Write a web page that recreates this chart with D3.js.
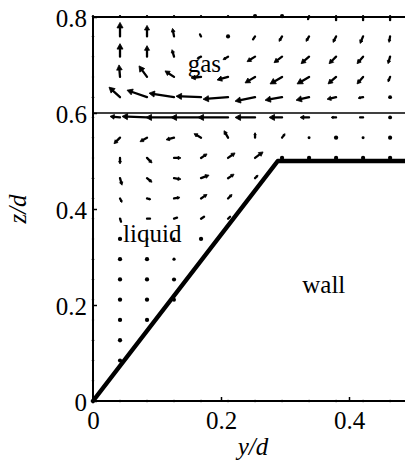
<!DOCTYPE html>
<html><head><meta charset="utf-8">
<script src="https://cdn.jsdelivr.net/npm/d3@7"></script>
<style>
html,body{margin:0;padding:0;background:#fff;}
svg{display:block;}
svg text{font-family:"Liberation Serif","Times New Roman",serif !important;fill:#000;}
</style></head>
<body>
<svg id="chart" width="405" height="461"></svg>
<script>
// ---- data ----
const xTicks = [0, 0.2, 0.4];
const yTicks = [0, 0.2, 0.4, 0.6, 0.8];
const gridStep = 0.0422;              // spacing of the velocity grid (y/d and z/d)
const nCols = 12, nRows = 20;
const interfaceZ = 0.6;
const wallY = [0, 0.2887, 0.5];
const wallZ = [0, 0.5, 0.5];
const labels = [
  {text: "gas", y: 0.148, z: 0.686},
  {text: "liquid", y: 0.047, z: 0.332},
  {text: "wall", y: 0.327, z: 0.225}
];
// velocity components (u: along y/d, w: along z/d), rows from z=0 upward; null = inside wall
const uField = [
  [0,0,0,0,0,0,0,0,0,0,0,0],
  [0,null,null,null,null,null,null,null,null,null,null,null],
  [0,0,null,null,null,null,null,null,null,null,null,null],
  [0,0,null,null,null,null,null,null,null,null,null,null],
  [0,0,0,null,null,null,null,null,null,null,null,null],
  [0,0,0,0,null,null,null,null,null,null,null,null],
  [0,0,0,0,null,null,null,null,null,null,null,null],
  [0,0,0,0,null,null,null,null,null,null,null,null],
  [0,0,0,0,0,null,null,null,null,null,null,null],
  [0,1,3,3,3,2,null,null,null,null,null,null],
  [0,2,4,6,6,4,null,null,null,null,null,null],
  [0,2,5,7,8,6,3,null,null,null,null,null],
  [0,0,5,7,6,7,8,0,0,0,0,0],
  [0,-6,-7,-8,-7,-4,0,3,0,0,0,0],
  [0,-10,-25,-28,-30,-30,-20,-13,-9,-5,-3,-1],
  [0,-11,-20,-25,-25,-25,-20,-17,-13,-9,-5,-1],
  [0,-1,-8,-9,-10,-11,-10,-12,-12,-8,-6,-2],
  [0,0,0,-2,-4,-5,-8,-8,-8,-7,-6,-2],
  [0,0,0,-1.5,-1,0,-2,-3,-3,-3,-3,-1],
  [0,0,0,0,0,0,0,0,-1,0,0,0]
];
const wField = [
  [0,0,0,0,0,0,0,0,0,0,0,0],
  [0,null,null,null,null,null,null,null,null,null,null,null],
  [0,1.2,null,null,null,null,null,null,null,null,null,null],
  [0,1.3,null,null,null,null,null,null,null,null,null,null],
  [0,1.3,1.3,null,null,null,null,null,null,null,null,null],
  [0,1.3,1.3,1.0,null,null,null,null,null,null,null,null],
  [0,1.3,1.3,1.2,null,null,null,null,null,null,null,null],
  [0,1.3,1.3,0.5,null,null,null,null,null,null,null,null],
  [0,1.3,0.3,0.3,1.3,null,null,null,null,null,null,null],
  [0,-3,0,1,2,2,null,null,null,null,null,null],
  [0,-4,-1,1,4,4,null,null,null,null,null,null],
  [0,-7,-4,-1,3,4,3,null,null,null,null,null],
  [0,-6,-5,0,4,5,6,1.3,1.3,1.3,1.3,1.3],
  [0,-6,-4,-2,4,7,5,4,0.3,1.3,0.3,1.2],
  [0,1,1,0,0,0,0,0,0,0,0,0],
  [0,10,7,4,1,-2,-4,-3,-3,-2,-1,0],
  [0,12,11,6,-1,-3,-6,-7,-7,-7,-7,-5],
  [0,13,11,7,-2,-3,-5,-6,-7,-7,-7,-7],
  [0,14,11,8,2,1.2,-3,-5,-5,-6,-7,-6],
  [0,0,0,0,0,0,-1.2,-1.2,-3,-4,-4,-4]
];

// ---- scales ----
const x = d3.scaleLinear().domain([0, 0.5]).range([93, 413]);
const y = d3.scaleLinear().domain([0, 0.8]).range([401, 17]);
const vlen = d3.scaleLinear().domain([0, 10]).range([0, 10]); // velocity units -> px

const svg = d3.select("#chart");
svg.append("rect").attr("width",405).attr("height",461).attr("fill","#fff");

// ---- quiver ----
const q = svg.append("g");
for (let j = 0; j < nRows; j++) {
  for (let i = 0; i < nCols; i++) {
    const u = uField[j][i], w = wField[j][i];
    if (u === null || w === null) continue;
    const x0 = x(i * gridStep), y0 = y(j * gridStep);
    const dx = vlen(u), dy = -vlen(w);
    const L = Math.hypot(dx, dy);
    if (L < 2) {
      const boundary = (i === 0 || j === 0 || j === nRows - 1) && L === 0;
      q.append("circle").attr("cx", x0).attr("cy", y0)
        .attr("r", boundary ? 1.2 : 1.3 + 0.65 * L).attr("fill", "#000");
      continue;
    }
    const ux = dx / L, uy = dy / L;
    const hl = L > 4 ? Math.min(5.5, 0.42 * L) : 0;
    const hw = hl * 0.55;
    const bx = x0 + dx - ux * hl, by = y0 + dy - uy * hl;
    q.append("line").attr("x1", x0).attr("y1", y0).attr("x2", bx).attr("y2", by)
      .attr("stroke", "#000").attr("stroke-width", 2.3).attr("stroke-linecap", "round");
    if (hl > 0) {
      const tx = x0 + dx, ty = y0 + dy;
      q.append("path")
        .attr("d", `M${tx},${ty}L${bx - uy * hw},${by + ux * hw}L${bx + uy * hw},${by - ux * hw}Z`)
        .attr("fill", "#000").attr("stroke", "#000").attr("stroke-width", 0.8);
    }
  }
}

// ---- interface line ----
svg.append("line").attr("x1", x(0)).attr("x2", x(0.5))
  .attr("y1", y(interfaceZ)).attr("y2", y(interfaceZ))
  .attr("stroke", "#000").attr("stroke-width", 1.6);

// ---- wall ----
const wallLine = d3.line().x((d, k) => x(wallY[k])).y((d, k) => y(wallZ[k]));
svg.append("path").attr("d", wallLine(wallY)).attr("fill", "none")
  .attr("stroke", "#000").attr("stroke-width", 4.5)
  .attr("stroke-linejoin", "round").attr("stroke-linecap", "round");

// ---- axes ----
const fmt = d => d === 0 ? "0" : d3.format(".1f")(d);
const gx = svg.append("g").attr("transform", `translate(0,${y(0)})`)
  .call(d3.axisBottom(x).tickValues(xTicks).tickFormat(fmt).tickSize(-4).tickPadding(10));
const gy = svg.append("g").attr("transform", `translate(${x(0)},0)`)
  .call(d3.axisLeft(y).tickValues(yTicks).tickFormat(fmt).tickSize(-4).tickPadding(6));
[gx, gy].forEach(g => {
  g.attr("font-family", null).attr("font-size", null);
  g.select(".domain").remove();
  g.selectAll("line").attr("stroke", "#000").attr("stroke-width", 1.5);
  g.selectAll("text").style("font-family", "'Liberation Serif', serif").attr("font-size", 25).attr("fill", "#000");
});
gy.selectAll("text").attr("dy", "0.38em");

// box lines
const box = svg.append("g").attr("stroke", "#000").attr("stroke-width", 2).attr("fill", "none");
box.append("path").attr("d", `M${x(0.5)},${y(0.8)}H${x(0)}V${y(0)}H${x(0.5)}V${y(0.8)}`);

// ---- region labels ----
labels.forEach(l => {
  svg.append("text").attr("x", x(l.y)).attr("y", y(l.z))
    .attr("font-size", 25).text(l.text);
});

// ---- axis titles ----
svg.append("text").attr("x", x(0.25)).attr("y", 455)
  .attr("text-anchor", "middle").attr("font-size", 25).attr("font-style", "italic")
  .text("y/d");
svg.append("text").attr("transform", `translate(26,${y(0.4)}) rotate(-90)`)
  .attr("text-anchor", "middle").attr("font-size", 25).attr("font-style", "italic")
  .text("z/d");
</script>
</body></html>
